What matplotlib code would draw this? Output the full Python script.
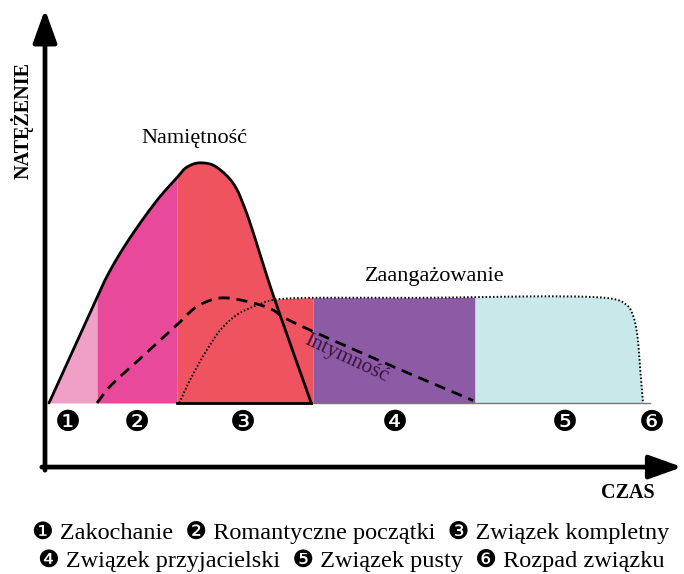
import numpy as np
import matplotlib
matplotlib.use("Agg")
import matplotlib.pyplot as plt

# --- data (time units, intensity units) ---
passion_t = [0, 4, 8, 9.5, 12, 15.2, 18.5, 21.3, 23, 24.8, 26.8, 28.5, 30.7, 32.5, 37.3, 43.7]
passion_v = [0, 22, 44, 52, 63, 75, 86, 93.8, 98.3, 100, 99.6, 97.2, 91.5, 82, 45.4, 0]

intimacy_t = [8, 10, 12.5, 15.2, 21.3, 25.2, 28.8, 34, 37.3, 39, 55.2, 70.7]
intimacy_v = [0, 6.5, 12.5, 18.5, 32.5, 41, 43.8, 41.7, 38.8, 35.8, 17.5, 1]

commit_t = [21.7, 23.5, 26.3, 29, 31.8, 34.7, 37.3, 40.2, 60, 94, 96.3, 97.3, 98, 98.5, 99]
commit_v = [0, 9.6, 22.1, 31.7, 37.5, 40.8, 42.9, 43.6, 43.8, 43.4, 40.8, 36.7, 29.2, 15, 0]

phase_edges = [0, 8, 21.3, 44, 71, 99]
phase_colors = ["#F09FC7", "#E8499B", "#EE535F", "#8D5AA5", "#C8E8EA"]
phase_marks = ["❶", "❷", "❸", "❹", "❺", "❻"]
phase_mark_t = [3.2, 14.7, 32.3, 57.7, 86, 100.5]

legend_lines = [
    "❶ Zakochanie  ❷ Romantyczne początki  ❸ Związek kompletny",
    "❹ Związek przyjacielski  ❺ Związek pusty  ❻ Rozpad związku",
]

serif = ["Liberation Serif", "DejaVu Sans"]


def smooth(xs, ys, n=20):
    # centripetal Catmull-Rom through the given points
    pts = np.column_stack([xs, ys]).astype(float)
    pts = np.vstack([2 * pts[0] - pts[1], pts, 2 * pts[-1] - pts[-2]])
    out = []
    for i in range(1, len(pts) - 2):
        p0, p1, p2, p3 = pts[i - 1], pts[i], pts[i + 1], pts[i + 2]
        t0 = 0.0
        t1 = t0 + np.linalg.norm(p1 - p0) ** 0.5
        t2 = t1 + np.linalg.norm(p2 - p1) ** 0.5
        t3 = t2 + np.linalg.norm(p3 - p2) ** 0.5
        tt = np.linspace(t1, t2, n)[:, None]
        a1 = (t1 - tt) / (t1 - t0) * p0 + (tt - t0) / (t1 - t0) * p1
        a2 = (t2 - tt) / (t2 - t1) * p1 + (tt - t1) / (t2 - t1) * p2
        a3 = (t3 - tt) / (t3 - t2) * p2 + (tt - t2) / (t3 - t2) * p3
        b1 = (t2 - tt) / (t2 - t0) * a1 + (tt - t0) / (t2 - t0) * a2
        b2 = (t3 - tt) / (t3 - t1) * a2 + (tt - t1) / (t3 - t1) * a3
        c = (t2 - tt) / (t2 - t1) * b1 + (tt - t1) / (t2 - t1) * b2
        out.append(c if i == len(pts) - 3 else c[:-1])
    out = np.vstack(out)
    return out[:, 0], out[:, 1]


px, pv = smooth(passion_t, passion_v)
ix, iv = smooth(intimacy_t, intimacy_v)
cx, cv = smooth(commit_t, commit_v)

fig = plt.figure(figsize=(6.84, 5.74), dpi=100)
ax = fig.add_axes([0, 0, 1, 1])
ax.set_xlim(-8.17, 105.83)
ax.set_ylim(-71.25, 167.9)
ax.axis("off")

# filled phases under the envelope of passion and commitment
for i in range(len(phase_colors)):
    a, b = phase_edges[i], phase_edges[i + 1]
    tg = np.linspace(a, b, 400)
    p = np.interp(tg, px, pv, left=0, right=0)
    c = np.interp(tg, cx, cv, left=0, right=0)
    ax.fill_between(tg, 0, np.maximum(p, c), color=phase_colors[i], lw=0, zorder=1)

# baseline
ax.plot([21.7, 100.2], [0, 0], color="#777777", lw=1, zorder=2)
ax.plot([21.3, 43.7], [0, 0], color="black", lw=2, zorder=3)

# curves
ax.plot(px, pv, color="black", lw=2.0, zorder=4, solid_capstyle="round")
ax.plot(ix, iv, color="black", lw=2.0, ls=(0, (4, 2.5)), zorder=4)
ax.plot(cx, cv, color="black", lw=1.4, ls=(0, (0.8, 1.1)), zorder=4)

# axes arrows
arrow = dict(arrowstyle="-|>,head_length=1.0,head_width=0.36", lw=3.4, color="black",
             shrinkA=0, shrinkB=0, mutation_scale=20)
ax.annotate("", xy=(-0.67, 164), xytext=(-0.67, -28), arrowprops=arrow)
ax.annotate("", xy=(105.5, -26.7), xytext=(-1.2, -26.7), arrowprops=arrow)

# labels
ax.text(24.3, 110.4, "Namiętność", family=serif, fontsize=16, ha="center", va="center")
ax.text(64.3, 52.5, "Zaangażowanie", family=serif, fontsize=16, ha="center", va="center")
ax.text(49.6, 18.6, "Intymność", family=serif, fontsize=15.5, ha="center", va="center",
        rotation=-25, rotation_mode="anchor", color="#3a1440")
ax.text(-4.5, 117.5, "NATĘŻENIE", family=serif, fontsize=14.5, fontweight="bold",
        ha="center", va="center", rotation=90)
ax.text(96.5, -37.5, "CZAS", family=serif, fontsize=14.5, fontweight="bold",
        ha="center", va="center")

for m, t in zip(phase_marks, phase_mark_t):
    ax.text(t, -8.3, m, family="DejaVu Sans", fontsize=21, ha="center", va="center")

fig.text(351 / 684, 1 - 533 / 574, legend_lines[0], family=serif, fontsize=17.5, ha="center", va="center")
fig.text(351 / 684, 1 - 560 / 574, legend_lines[1], family=serif, fontsize=17.5, ha="center", va="center")

fig.savefig("out.png", dpi=100, facecolor="white")
